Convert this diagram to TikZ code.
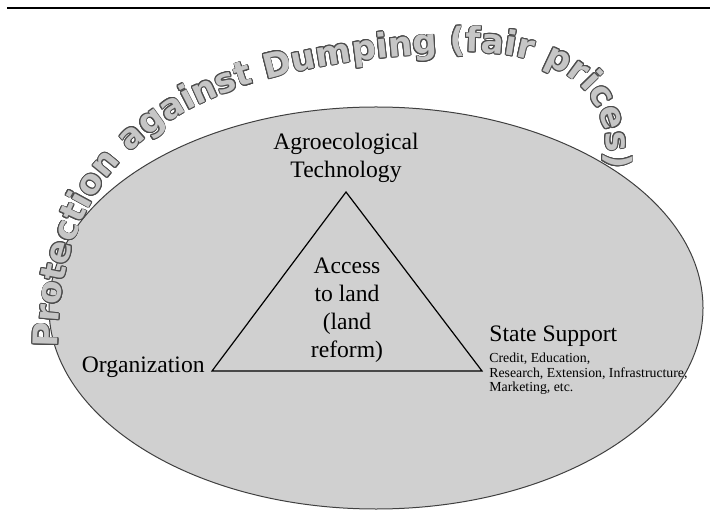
\documentclass[tikz,border=0pt]{standalone}
\usepackage{fontspec}
\setmainfont{Liberation Serif}
\newfontfamily\bannerfont{DejaVu Sans}
\usepackage{contour}
\usetikzlibrary{decorations.text}

\definecolor{discgray}{HTML}{D0D0D0}
\definecolor{lettergray}{HTML}{C6C6C6}
\contourlength{0.45pt}
% hollow grey letters for the arched slogan; blanks keep their width
\newcommand{\bannerchar}[1]{%
  \setbox0\hbox{#1}%
  \ifdim\wd0=0pt \hbox to 0.34em{}%
  \else\hbox to\wd0{\hss\contour{black!70}{\textcolor{lettergray}{#1}}\hss}\fi}

\begin{document}
\begin{tikzpicture}[x=0.5pt,y=-0.5pt,
  term/.style={inner sep=0pt,font=\fontsize{11.8}{14}\selectfont,align=center},
  fine/.style={inner sep=0pt,font=\fontsize{6.9}{7.1}\selectfont,align=left}]
\useasboundingbox (0,0) rectangle (710,512);
\draw[line width=1pt] (7,8) -- (710,8);

% the field
\draw[fill=discgray,draw=black!75,line width=0.5pt] (376,308) ellipse [x radius=327,y radius=201];

% slogan along the rim
\path[font=\bannerfont\bfseries\fontsize{17}{19}\selectfont,
  decorate,decoration={text effects along path,
    text={Protection against Dumping (fair prices)},
    text effects/.cd, text along path, fit text to path,
    character command=\bannerchar}]
  (58,348) .. controls (58,110) and (250,62) .. (462,52)
  .. controls (562,52) and (614,90) .. (606,168);

% triangle
\coordinate (apex) at (346,192);
\coordinate (baseL) at (212,371);
\coordinate (baseR) at (482,371);
\draw[line width=0.6pt] (apex) -- (baseL) -- (baseR) -- cycle;

\node[term] (tech) at (346,158) {Agroecological\\Technology};
\node[term] (access) at (347,310) {Access\\to land\\(land\\reform)};
\node[term,anchor=base east] (org) at (205,372) {Organization};
\node[term,anchor=base west] (state) at (489,342) {State Support};
\node[fine,anchor=north west] (services) at (489,353) {Credit, Education,\\Research, Extension, Infrastructure,\\Marketing, etc.};
\end{tikzpicture}
\end{document}
